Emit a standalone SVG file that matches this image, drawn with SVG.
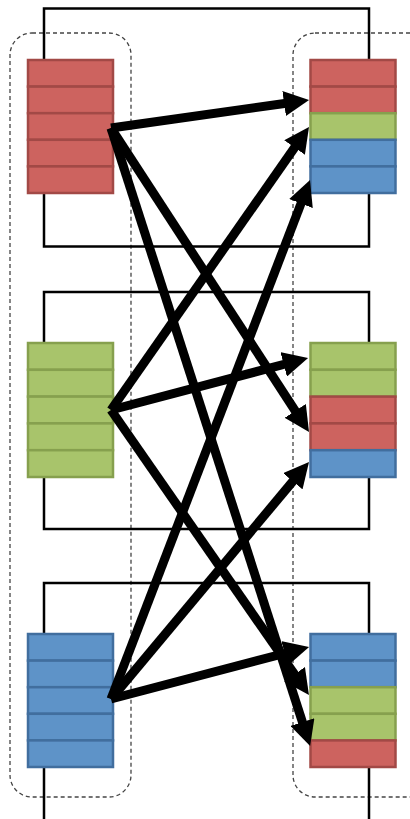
<svg xmlns="http://www.w3.org/2000/svg" width="410" height="819" viewBox="0 0 410 819">
<defs>
<style>
.frame{fill:none;stroke:#000;stroke-width:2.5}
.group{fill:none;stroke:#444;stroke-width:1.3;stroke-dasharray:4 3}
.r{fill:#CD635F;stroke:#A24946;stroke-width:2.5}
.g{fill:#A8C46B;stroke:#86A04E;stroke-width:2.5}
.b{fill:#5E93C8;stroke:#416E9E;stroke-width:2.5}
.arr{stroke:#000;stroke-width:9;fill:none;marker-end:url(#ah)}
</style>
<marker id="ah" viewBox="0 0 10 10" refX="3" refY="5" markerWidth="2.8" markerHeight="2.8" markerUnits="strokeWidth" orient="auto">
<path d="M0,0 L10,5 L0,10 z" fill="#000"/>
</marker>
</defs>
<rect width="410" height="819" fill="#fff"/>
<g id="groups">
<rect class="group" x="10" y="33" width="121" height="764" rx="22"/>
<rect class="group" x="293" y="33" width="140" height="764" rx="22"/>
</g>
<g id="frames">
<rect class="frame" x="44" y="8.5" width="325" height="238"/>
<rect class="frame" x="44" y="292" width="325" height="237"/>
<path class="frame" d="M44,830 V583 H369 V830"/>
</g>
<g id="src-red">
<rect class="r" x="28" y="60" width="85" height="26.6"/>
<rect class="r" x="28" y="86.6" width="85" height="26.6"/>
<rect class="r" x="28" y="113.2" width="85" height="26.6"/>
<rect class="r" x="28" y="139.8" width="85" height="26.6"/>
<rect class="r" x="28" y="166.4" width="85" height="26.6"/>
</g>
<g id="src-green">
<rect class="g" x="28" y="343" width="85" height="26.8"/>
<rect class="g" x="28" y="369.8" width="85" height="26.8"/>
<rect class="g" x="28" y="396.6" width="85" height="26.8"/>
<rect class="g" x="28" y="423.4" width="85" height="26.8"/>
<rect class="g" x="28" y="450.2" width="85" height="26.8"/>
</g>
<g id="src-blue">
<rect class="b" x="28" y="634" width="85" height="26.6"/>
<rect class="b" x="28" y="660.6" width="85" height="26.6"/>
<rect class="b" x="28" y="687.2" width="85" height="26.6"/>
<rect class="b" x="28" y="713.8" width="85" height="26.6"/>
<rect class="b" x="28" y="740.4" width="85" height="26.6"/>
</g>
<g id="dst-top">
<rect class="r" x="310.5" y="60" width="85" height="26.6"/>
<rect class="r" x="310.5" y="86.6" width="85" height="26.6"/>
<rect class="g" x="310.5" y="113.2" width="85" height="26.6"/>
<rect class="b" x="310.5" y="139.8" width="85" height="26.6"/>
<rect class="b" x="310.5" y="166.4" width="85" height="26.6"/>
</g>
<g id="dst-mid">
<rect class="g" x="310.5" y="343" width="85" height="26.8"/>
<rect class="g" x="310.5" y="369.8" width="85" height="26.8"/>
<rect class="r" x="310.5" y="396.6" width="85" height="26.8"/>
<rect class="r" x="310.5" y="423.4" width="85" height="26.8"/>
<rect class="b" x="310.5" y="450.2" width="85" height="26.8"/>
</g>
<g id="dst-bottom">
<rect class="b" x="310.5" y="634" width="85" height="26.6"/>
<rect class="b" x="310.5" y="660.6" width="85" height="26.6"/>
<rect class="g" x="310.5" y="687.2" width="85" height="26.6"/>
<rect class="g" x="310.5" y="713.8" width="85" height="26.6"/>
<rect class="r" x="310.5" y="740.4" width="85" height="26.6"/>
</g>
<g id="connectors">
<line class="arr" x1="111" y1="128" x2="291.6" y2="102.5"/>
<line class="arr" x1="111" y1="128" x2="299.4" y2="417.2"/>
<line class="arr" x1="111" y1="128" x2="304.7" y2="729.2"/>
<line class="arr" x1="111" y1="410" x2="298.9" y2="141.4"/>
<line class="arr" x1="111" y1="410" x2="291" y2="362.5"/>
<line class="arr" x1="111" y1="410" x2="298.9" y2="680.5"/>
<line class="arr" x1="111" y1="699" x2="303.7" y2="196.5"/>
<line class="arr" x1="111" y1="699" x2="297.7" y2="475.5"/>
<line class="arr" x1="111" y1="699" x2="292" y2="651.5"/>
</g>
</svg>
